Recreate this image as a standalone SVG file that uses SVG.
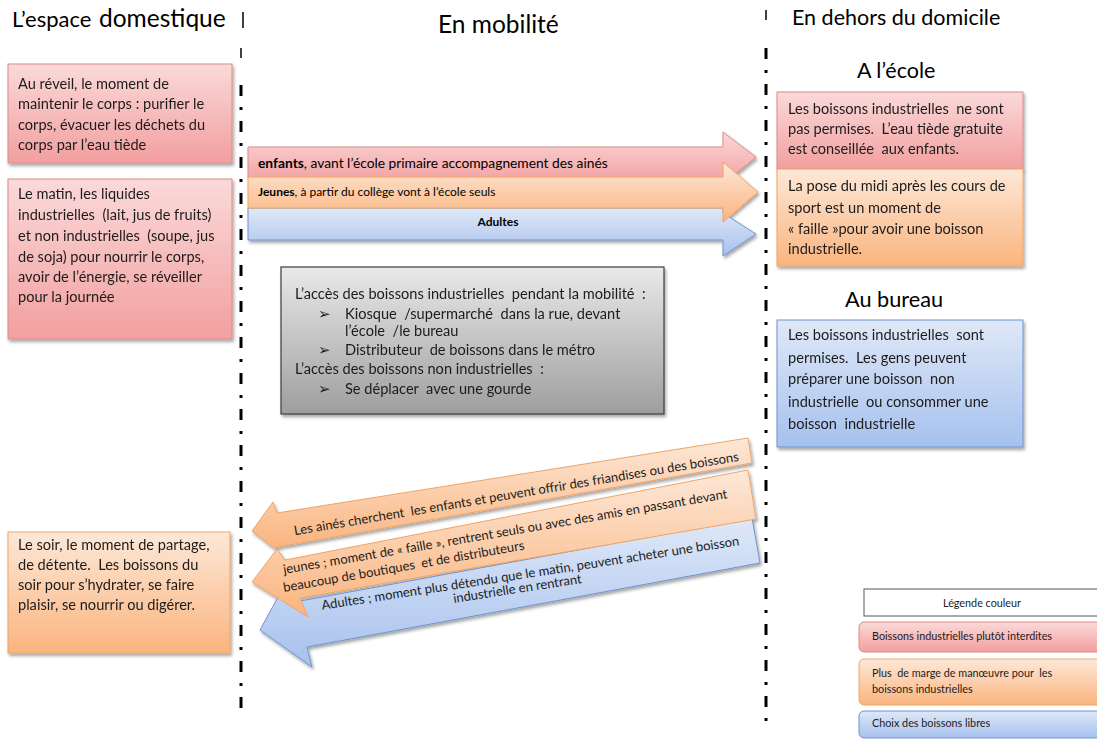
<svg xmlns="http://www.w3.org/2000/svg" width="1097" height="742" viewBox="0 0 1097 742" xml:space="preserve">
<defs>
<linearGradient id="gRed" x1="0" y1="0" x2="0" y2="1"><stop offset="0" stop-color="#fbd9d9"/><stop offset="1" stop-color="#f29f9f"/></linearGradient>
<linearGradient id="gOr" x1="0" y1="0" x2="0" y2="1"><stop offset="0" stop-color="#fde8d8"/><stop offset="1" stop-color="#fab47e"/></linearGradient>
<linearGradient id="gBl" x1="0" y1="0" x2="0" y2="1"><stop offset="0" stop-color="#dfe8f7"/><stop offset="1" stop-color="#a6c1ee"/></linearGradient>
<linearGradient id="gGr" x1="0" y1="0" x2="0" y2="1"><stop offset="0" stop-color="#e9e9e9"/><stop offset="1" stop-color="#9e9e9e"/></linearGradient>
<filter id="sh" x="-10%" y="-10%" width="125%" height="130%"><feDropShadow dx="1.5" dy="2.5" stdDeviation="1.8" flood-color="#000" flood-opacity="0.35"/></filter>
</defs>
<style>
text{font-family:Lato,"Liberation Sans",sans-serif;fill:#1c1c1c;white-space:pre}
.h{fill:#000}
.t{font-size:14.6px}
.s{font-size:13px}
.l{font-size:10.8px}
.red{fill:url(#gRed);stroke:#d98c8a;stroke-width:1}
.or{fill:url(#gOr);stroke:#f0a465;stroke-width:1}
.bl{fill:url(#gBl);stroke:#6f93cc;stroke-width:1}
.gr{fill:url(#gGr);stroke:#3c3c3c;stroke-width:1.2}
.div{stroke:#000;stroke-width:3;stroke-dasharray:11 11 3 11;fill:none}
</style>
<rect width="1097" height="742" fill="#fff"/>
<g id="dividers">
<line x1="243" y1="12" x2="243" y2="28" stroke="#000" stroke-width="1.5"/>
<line x1="241" y1="48" x2="241" y2="58" stroke="#000" stroke-width="1.5"/>
<line class="div" x1="241" y1="85" x2="241" y2="712"/>
<line x1="766" y1="10" x2="766" y2="20" stroke="#000" stroke-width="1.5"/>
<line class="div" x1="766" y1="48" x2="766" y2="726"/>
</g>
<g id="headers">
<text class="h" x="12" y="27" font-size="22">L’espace</text>
<text class="h" x="99" y="27" font-size="24.5">domestique</text>
<text class="h" x="438" y="33" font-size="24.5">En mobilité</text>
<text class="h" x="792" y="25" font-size="21.5">En dehors du domicile</text>
<text class="h" x="857" y="78" font-size="21.5">A l’école</text>
<text class="h" x="845" y="307" font-size="21.7">Au bureau</text>
</g>
<g id="reveil" filter="url(#sh)">
<rect class="red" x="8" y="64" width="224" height="99"/>
<text class="t" x="18" y="89">Au réveil, le moment de</text>
<text class="t" x="18" y="109">maintenir le corps : purifier le</text>
<text class="t" x="18" y="129.5">corps, évacuer les déchets du</text>
<text class="t" x="18" y="149.5">corps par l’eau tiède</text>
</g>
<g id="matin" filter="url(#sh)">
<rect class="red" x="8" y="179" width="224" height="160"/>
<text class="t" x="18" y="198.5">Le matin, les liquides</text>
<text class="t" x="18" y="219.5">industrielles  (lait, jus de fruits)</text>
<text class="t" x="18" y="240.5">et non industrielles  (soupe, jus</text>
<text class="t" x="18" y="261.5">de soja) pour nourrir le corps,</text>
<text class="t" x="18" y="282">avoir de l’énergie, se réveiller</text>
<text class="t" x="18" y="302">pour la journée</text>
</g>
<g id="soir" filter="url(#sh)">
<rect class="or" x="8" y="532" width="222" height="121"/>
<text class="t" x="18" y="550">Le soir, le moment de partage,</text>
<text class="t" x="18" y="570">de détente.  Les boissons du</text>
<text class="t" x="18" y="590">soir pour s’hydrater, se faire</text>
<text class="t" x="18" y="610">plaisir, se nourrir ou digérer.</text>
</g>
<g id="connectors">
<g id="aller" filter="url(#sh)">
<polygon class="red" points="248,147 723,147 723,132 756,157 723,184 723,178 248,178"/>
<polygon class="bl" points="248,208 723,208 723,213 756,234 723,256 723,240 248,240"/>
<polygon class="or" points="248,177 723,177 723,162 758,192 723,222 723,208 248,208"/>
</g>
<text class="h" x="258" y="168" font-size="13.8"><tspan font-weight="bold">enfants</tspan>, avant l’école primaire accompagnement des ainés</text>
<text class="h" x="258" y="196" font-size="12"><tspan font-weight="bold">Jeunes</tspan>, à partir du collège vont à l’école seuls</text>
<text class="h" x="498" y="226" font-size="12" font-weight="bold" text-anchor="middle">Adultes</text>
<g id="retour" filter="url(#sh)">
<polygon class="or" points="252,531 273,502 277,513 748,438 752,463 283,546 274,548"/>
<polygon class="bl" points="260,630 283,588 295,602 752,518 760,563 307,647 312,667"/>
<polygon class="or" points="252,582 277,549 285,560 748,470 756,519 300,598 308,617"/>
</g>
<text class="s" transform="translate(517,498) rotate(-9.5)" text-anchor="middle">Les ainés cherchent  les enfants et peuvent offrir des friandises ou des boissons</text>
<text class="s" transform="translate(284,574) rotate(-9.7)">jeunes ; moment de « faille », rentrent seuls ou avec des amis en passant devant</text>
<text class="s" transform="translate(284,592) rotate(-10)">beaucoup de boutiques  et de distributeurs</text>
<text class="s" transform="translate(531,577.5) rotate(-8.8)" text-anchor="middle">Adultes ; moment plus détendu que le matin, peuvent acheter une boisson</text>
<text class="s" transform="translate(518,593) rotate(-8.8)" text-anchor="middle">industrielle en rentrant</text>
</g>
<g id="acces" filter="url(#sh)">
<rect class="gr" x="281" y="267" width="383" height="147"/>
<text class="t" x="295" y="298.5" font-size="14.3">L’accès des boissons industrielles  pendant la mobilité  :</text>
<text class="t" x="318" y="318.5">➢</text>
<text class="t" x="345" y="318.5">Kiosque  /supermarché  dans la rue, devant</text>
<text class="t" x="345" y="335.5">l’école  /le bureau</text>
<text class="t" x="318" y="355">➢</text>
<text class="t" x="345" y="355">Distributeur  de boissons dans le métro</text>
<text class="t" x="295" y="373.5">L’accès des boissons non industrielles  :</text>
<text class="t" x="318" y="393.5">➢</text>
<text class="t" x="345" y="393.5">Se déplacer  avec une gourde</text>
</g>
<g id="ecole-red" filter="url(#sh)">
<rect class="red" x="777" y="92" width="246" height="77"/>
<text class="t" x="788" y="114">Les boissons industrielles  ne sont</text>
<text class="t" x="788" y="134">pas permises.  L’eau tiède gratuite</text>
<text class="t" x="788" y="153.5">est conseillée  aux enfants.</text>
</g>
<g id="ecole-orange" filter="url(#sh)">
<rect class="or" x="777" y="169" width="246" height="97"/>
<text class="t" x="788" y="191">La pose du midi après les cours de</text>
<text class="t" x="788" y="212.5">sport est un moment de</text>
<text class="t" x="788" y="233.5">« faille »pour avoir une boisson</text>
<text class="t" x="788" y="254">industrielle.</text>
</g>
<g id="bureau" filter="url(#sh)">
<rect class="bl" x="777" y="320" width="246" height="127"/>
<text class="t" x="788" y="339.5">Les boissons industrielles  sont</text>
<text class="t" x="788" y="363">permises.  Les gens peuvent</text>
<text class="t" x="788" y="384">préparer une boisson  non</text>
<text class="t" x="788" y="407">industrielle  ou consommer une</text>
<text class="t" x="788" y="428.5">boisson  industrielle</text>
</g>
<g id="legende">
<rect x="864" y="589" width="240" height="27" fill="#fff" stroke="#555" stroke-width="1"/>
<text class="l" x="982" y="607" text-anchor="middle" font-size="11.5">Légende couleur</text>
<rect class="red" x="859" y="622" width="250" height="30" rx="5"/>
<text class="l" x="872" y="639.5">Boissons industrielles plutôt interdites</text>
<rect class="or" x="859" y="659" width="250" height="46" rx="5"/>
<text class="l" x="872" y="676.5">Plus  de marge de manœuvre pour  les</text>
<text class="l" x="872" y="693">boissons industrielles</text>
<rect class="bl" x="859" y="711" width="250" height="27" rx="5"/>
<text class="l" x="872" y="727">Choix des boissons libres</text>
</g>
</svg>
